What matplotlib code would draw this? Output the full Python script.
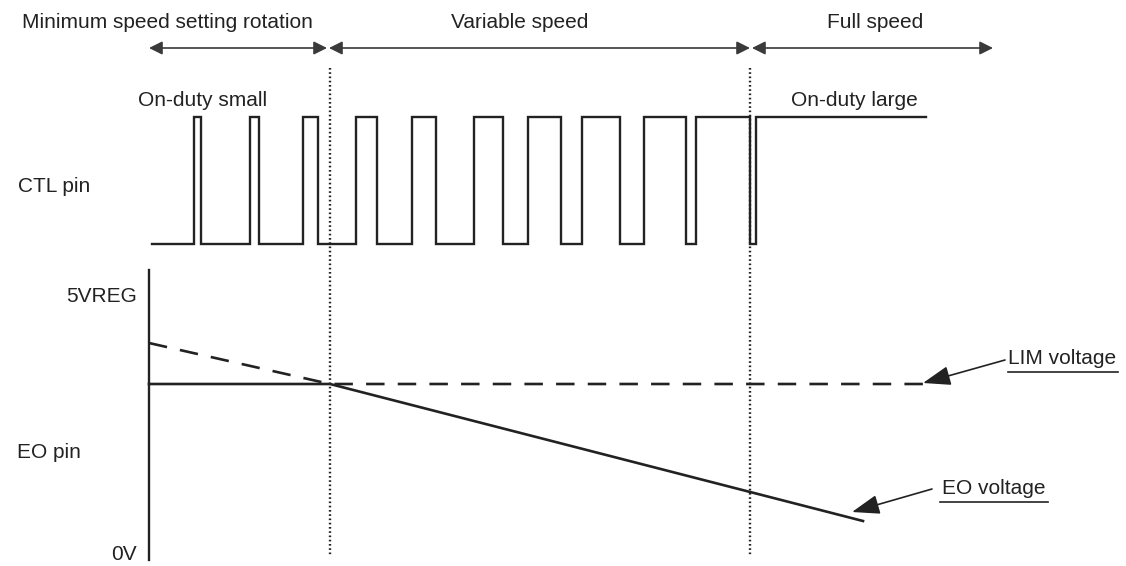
import matplotlib.pyplot as plt

plt.rcParams['font.family'] = ['Liberation Sans', 'DejaVu Sans']

# time positions (horizontal units) and levels (vertical units, top = small)
ctl_start = 152
ctl_end = 926
ctl_low = 244
ctl_high = 117
rise_times = [194, 250, 303, 356, 412, 474, 528, 582, 644, 696, 756]
fall_times = [201, 259, 318, 377, 436, 503, 561, 620, 686, 750]

# EO pin waveforms
eo_x = [149, 330, 863]
eo_y = [384, 384, 521]
lim_x = [149, 330, 923]
lim_y = [343, 384, 384]
axis_top = 270
axis_bottom = 560
axis_x = 149

# region boundaries
boundaries = [330, 750]
regions = ['Minimum speed setting rotation', 'Variable speed', 'Full speed']
region_spans = [(149, 327), (329, 750), (752, 993)]
region_text_x = [167, 520, 875]

ink = '#222222'
fs = 15

fig = plt.figure(figsize=(11.26, 5.66), dpi=100)
ax = fig.add_axes([0, 0, 1, 1])
ax.set_xlim(0, 1126)
ax.set_ylim(566, 0)
ax.axis('off')

# CTL pin pulse train
xs = [ctl_start]
ys = [ctl_low]
for i, r in enumerate(rise_times):
    xs += [r, r]
    ys += [ctl_low, ctl_high]
    if i < len(fall_times):
        f = fall_times[i]
        xs += [f, f]
        ys += [ctl_high, ctl_low]
xs.append(ctl_end)
ys.append(ctl_high)
ax.plot(xs, ys, color=ink, lw=1.7, solid_joinstyle='miter')

# EO pin axis and lines
ax.plot([axis_x, axis_x], [axis_top, axis_bottom], color=ink, lw=1.7)
ax.plot(lim_x, lim_y, color=ink, lw=1.9, dashes=(7, 5))
ax.plot(eo_x, eo_y, color=ink, lw=1.9)

# dotted boundaries
for b in boundaries:
    ax.plot([b, b], [68, 556], color=ink, lw=1.7, linestyle=(0, (0.7, 1.1)))

# top region arrows
for (a, b), name, tx in zip(region_spans, regions, region_text_x):
    ax.annotate('', xy=(b, 48), xytext=(a, 48),
                arrowprops=dict(arrowstyle='<|-|>,head_length=0.8,head_width=0.4',
                                mutation_scale=10, lw=1.2, color='#3a3a3a',
                                shrinkA=0, shrinkB=0))
    ax.text(tx, 22, name, ha='center', va='center', fontsize=fs, color=ink)

ax.text(203, 101, 'On-duty small', ha='center', va='center', fontsize=fs, color=ink)
ax.text(854, 101, 'On-duty large', ha='center', va='center', fontsize=fs, color=ink)
ax.text(18, 187, 'CTL pin', ha='left', va='center', fontsize=fs, color=ink)
ax.text(17, 453, 'EO pin', ha='left', va='center', fontsize=fs, color=ink)
ax.text(137, 296, '5VREG', ha='right', va='center', fontsize=fs, color=ink)
ax.text(137, 555, '0V', ha='right', va='center', fontsize=fs, color=ink)

# callouts
ax.annotate('', xy=(923, 383), xytext=(1005, 360),
            arrowprops=dict(arrowstyle='-|>,head_length=1.7,head_width=0.6',
                            mutation_scale=10, lw=1.2, color=ink,
                            shrinkA=0, shrinkB=0))
ax.text(1008, 358, 'LIM voltage', ha='left', va='center', fontsize=fs, color=ink)
ax.plot([1008, 1118], [372, 372], color=ink, lw=1.2)

ax.annotate('', xy=(852, 512), xytext=(932, 489),
            arrowprops=dict(arrowstyle='-|>,head_length=1.7,head_width=0.6',
                            mutation_scale=10, lw=1.2, color=ink,
                            shrinkA=0, shrinkB=0))
ax.text(942, 488, 'EO voltage', ha='left', va='center', fontsize=fs, color=ink)
ax.plot([940, 1048], [502, 502], color=ink, lw=1.2)

fig.savefig('out.png', dpi=100)
